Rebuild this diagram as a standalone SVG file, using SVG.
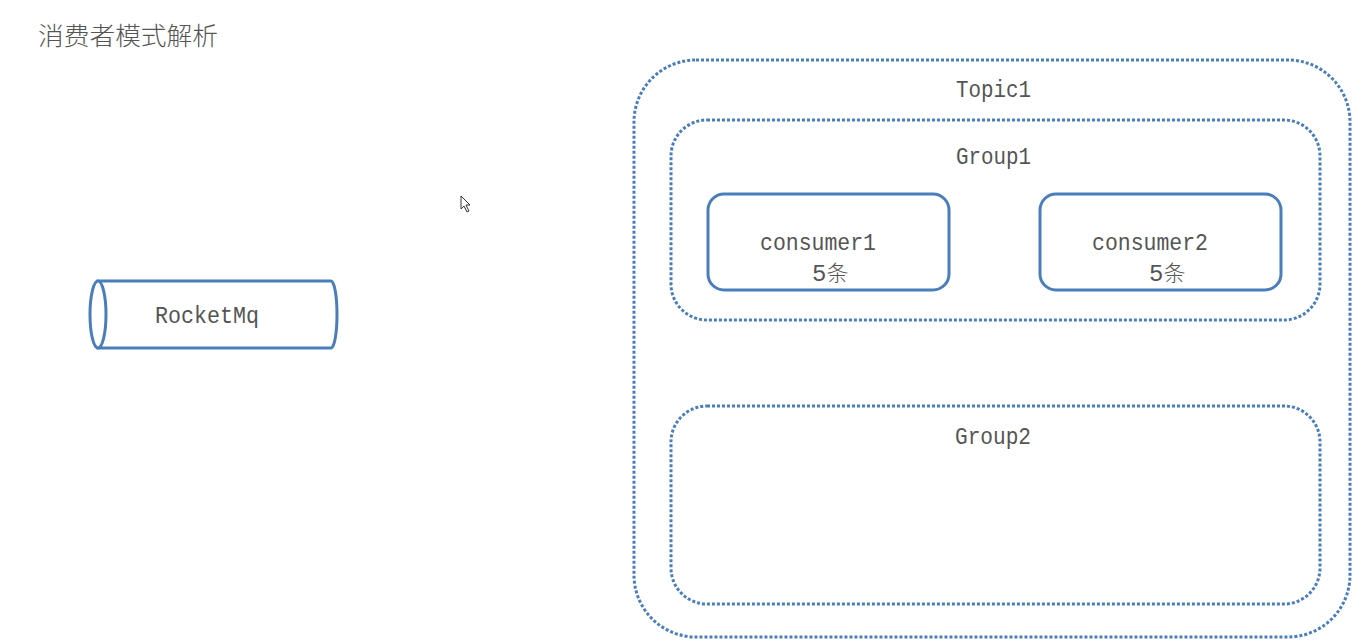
<svg xmlns="http://www.w3.org/2000/svg" width="1361" height="641" viewBox="0 0 1361 641">
<style>
.dot{fill:none;stroke:#4a7ebb;stroke-width:3;stroke-dasharray:3 2}
.solid{fill:#fff;stroke:#4a7ebb;stroke-width:3}
.mono{font-family:"Liberation Mono","DejaVu Sans Mono","Noto Sans CJK SC",monospace;font-size:24px;fill:#555}
.cjk{font-family:"Noto Sans CJK SC",sans-serif;font-size:22px;font-weight:300}
.title{font-family:"Noto Sans CJK SC","Noto Sans",sans-serif;font-size:25px;font-weight:300;fill:#555}
</style>
<rect width="1361" height="641" fill="#fff"/>
<text class="title" x="38" y="45" textLength="180" lengthAdjust="spacingAndGlyphs">消费者模式解析</text>
<g id="topic1">
<rect class="dot" x="634" y="60" width="716" height="577" rx="62" ry="62"/>
<text class="mono" x="956" y="97" textLength="75" lengthAdjust="spacingAndGlyphs">Topic1</text>
</g>
<g id="group1">
<rect class="dot" x="671" y="120" width="649" height="200" rx="36" ry="36"/>
<text class="mono" x="956" y="164" textLength="75" lengthAdjust="spacingAndGlyphs">Group1</text>
</g>
<g id="group2">
<rect class="dot" x="671" y="406" width="649" height="198" rx="36" ry="36"/>
<text class="mono" x="955" y="444" textLength="76" lengthAdjust="spacingAndGlyphs">Group2</text>
</g>
<g id="consumer1">
<rect class="solid" x="708" y="194" width="241" height="96" rx="16" ry="16"/>
<text class="mono" x="760" y="250" textLength="116" lengthAdjust="spacingAndGlyphs">consumer1</text>
<text class="mono" x="812" y="281">5<tspan class="cjk">条</tspan></text>
</g>
<g id="consumer2">
<rect class="solid" x="1040" y="194" width="241" height="96" rx="16" ry="16"/>
<text class="mono" x="1092" y="250" textLength="116" lengthAdjust="spacingAndGlyphs">consumer2</text>
<text class="mono" x="1149" y="281">5<tspan class="cjk">条</tspan></text>
</g>
<g id="rocketmq">
<path class="solid" d="M98,281 L331,281 A6,33.5 0 0 1 331,348 L98,348 Z"/>
<ellipse class="solid" cx="98" cy="314.5" rx="8" ry="33.5"/>
<text class="mono" x="155" y="323" textLength="104" lengthAdjust="spacingAndGlyphs">RocketMq</text>
</g>
<g id="connectors"></g>
<path d="M461,196 L461,209 L464,206 L467,212 L469,211 L466,205 L470,205 Z" fill="#fff" stroke="#333" stroke-width="1"/>
</svg>
